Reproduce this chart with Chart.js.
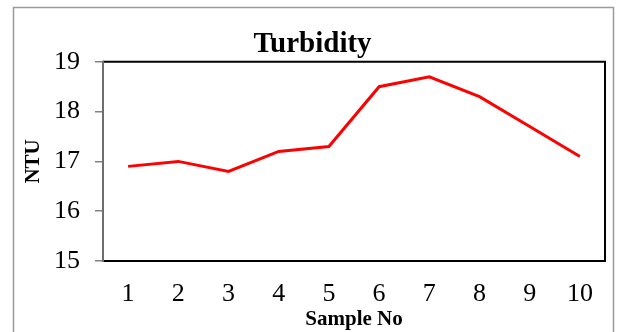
<!DOCTYPE html>
<html>
<head>
<meta charset="utf-8">
<script src="https://cdn.jsdelivr.net/npm/chart.js@4"></script>
<style>
  body { margin: 0; background: #fff; }
  #wrap { width: 619px; height: 332px; }
</style>
</head>
<body>
<div id="wrap"><canvas id="turbidityChart" width="619" height="332"></canvas></div>
<script>
const sampleNos = ['1', '2', '3', '4', '5', '6', '7', '8', '9', '10'];
const turbidity = [16.9, 17.0, 16.8, 17.2, 17.3, 18.5, 18.7, 18.3, 17.7, 17.1];
const yTicks = [15, 16, 17, 18, 19];

const serif = 'Liberation Serif, Times New Roman, serif';

// outer frame and plot box
const frames = {
    id: 'frames',
    beforeDraw(chart) {
        const ctx = chart.ctx;
        ctx.save();
        ctx.strokeStyle = '#9a9a9a';
        ctx.lineWidth = 1.5;
        ctx.strokeRect(13.5, 7.5, 600, 400);
        ctx.restore();
    },
    beforeDatasetsDraw(chart) {
        const { ctx, chartArea: a } = chart;
        ctx.save();
        ctx.lineWidth = 2;
        ctx.strokeStyle = '#000';
        ctx.beginPath();
        ctx.moveTo(a.left, a.top);
        ctx.lineTo(a.right, a.top);
        ctx.lineTo(a.right, a.bottom);
        ctx.lineTo(a.left, a.bottom);
        ctx.stroke();
        ctx.strokeStyle = '#6e6e6e';
        ctx.beginPath();
        ctx.moveTo(a.left, a.top - 1);
        ctx.lineTo(a.left, a.bottom + 1);
        ctx.stroke();
        ctx.restore();
    }
};

new Chart(document.getElementById('turbidityChart'), {
    type: 'line',
    data: {
        labels: sampleNos,
        datasets: [{
            label: 'Turbidity',
            data: turbidity,
            borderColor: '#ff0000',
            borderWidth: 3,
            pointRadius: 0,
            tension: 0,
            fill: false
        }]
    },
    options: {
        responsive: false,
        animation: false,
        layout: { padding: { left: 20, right: 14, top: 0, bottom: 0 } },
        plugins: {
            legend: { display: false },
            tooltip: { enabled: false },
            title: {
                display: true,
                text: 'Turbidity',
                color: '#000',
                font: { family: serif, size: 29, weight: 'bold' },
                padding: { top: 27, bottom: 0 }
            }
        },
        scales: {
            x: {
                offset: true,
                grid: { display: false, drawTicks: false },
                border: { display: false },
                ticks: {
                    color: '#000',
                    font: { family: serif, size: 26 },
                    padding: 18,
                    maxRotation: 0
                },
                title: {
                    display: true,
                    text: 'Sample No',
                    color: '#000',
                    font: { family: serif, size: 21, weight: 'bold' },
                    padding: { top: 0, bottom: 0 }
                },
                afterFit: s => { s.height = 71; }
            },
            y: {
                min: yTicks[0],
                max: yTicks[yTicks.length - 1],
                afterBuildTicks: s => { s.ticks = yTicks.map(v => ({ value: v })); },
                grid: {
                    drawOnChartArea: false,
                    drawTicks: true,
                    tickLength: 8,
                    color: '#808080',
                    lineWidth: 1.5
                },
                border: { display: false },
                ticks: {
                    color: '#000',
                    font: { family: serif, size: 26 },
                    padding: 15
                },
                title: {
                    display: true,
                    text: 'NTU',
                    color: '#000',
                    font: { family: serif, size: 21, weight: 'bold' },
                    padding: { top: 1, bottom: 0 }
                },
                afterFit: s => { s.width = 83; }
            }
        }
    },
    plugins: [frames]
});
</script>
</body>
</html>
